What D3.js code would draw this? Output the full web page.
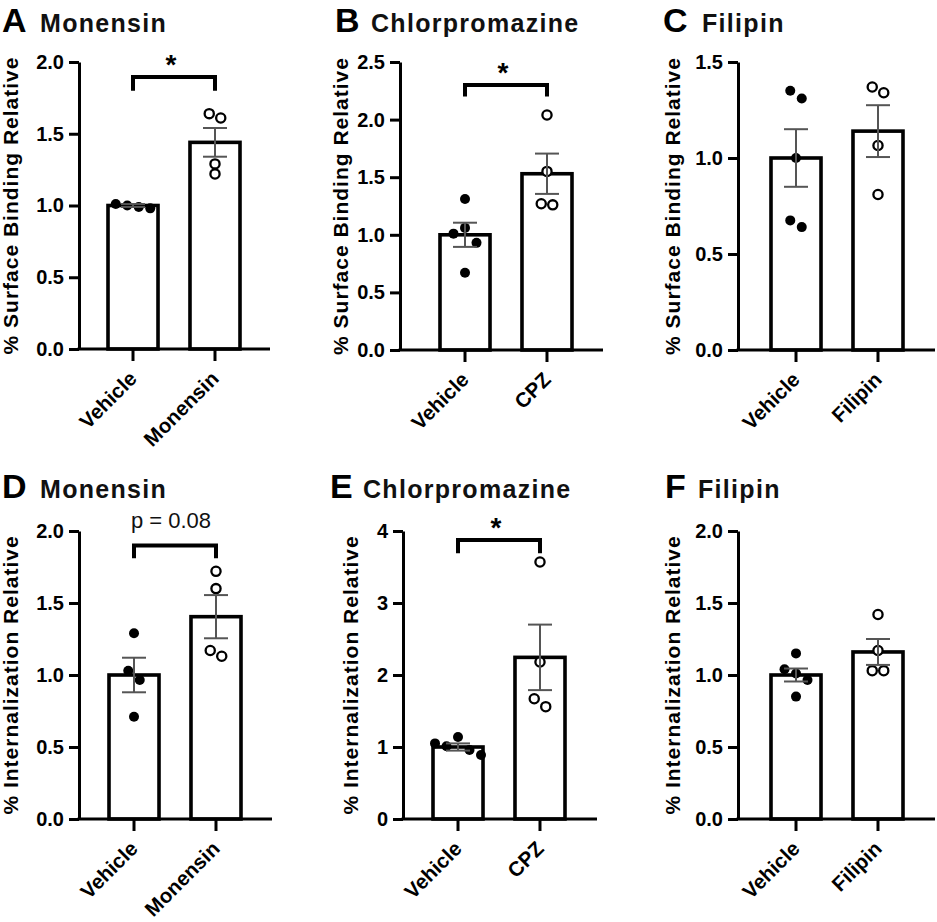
<!DOCTYPE html>
<html>
<head>
<meta charset="utf-8">
<script src="https://cdn.jsdelivr.net/npm/d3@7"></script>
<style>
  body { margin: 0; background: #fff; }
  svg { display: block; font-family: "Liberation Sans", Arial, sans-serif; }
</style>
</head>
<body>
<svg id="chart" width="937" height="922"></svg>
<script>
// values (mean bar, SEM, individual replicates)
var groupsA = ["Vehicle", "Monensin"];
var meansA = [1.00, 1.44];
var semA = [0.01, 0.10];
var vehA = [1.01, 1.00, 0.99, 0.98];
var monA = [1.64, 1.61, 1.29, 1.22];

var groupsB = ["Vehicle", "CPZ"];
var meansB = [1.00, 1.53];
var semB = [0.105, 0.175];
var vehB = [1.31, 1.01, 1.06, 0.93, 0.67];
var cpzB = [2.04, 1.55, 1.27, 1.26];

var groupsC = ["Vehicle", "Filipin"];
var meansC = [1.00, 1.14];
var semC = [0.15, 0.135];
var vehC = [1.35, 1.31, 1.00, 0.675, 0.64];
var filC = [1.37, 1.34, 1.065, 0.81];

var groupsD = ["Vehicle", "Monensin"];
var meansD = [1.00, 1.405];
var semD = [0.12, 0.15];
var vehD = [1.29, 1.03, 0.965, 0.71];
var monD = [1.72, 1.60, 1.17, 1.13];

var groupsE = ["Vehicle", "CPZ"];
var meansE = [1.00, 2.245];
var semE = [0.05, 0.455];
var vehE = [1.05, 1.01, 1.14, 0.96, 0.89];
var cpzE = [3.57, 2.18, 1.67, 1.56];

var groupsF = ["Vehicle", "Filipin"];
var meansF = [1.00, 1.16];
var semF = [0.045, 0.09];
var vehF = [1.15, 1.04, 1.01, 0.965, 0.85];
var filF = [1.42, 1.17, 1.03, 1.03];

var ticksA = [0, 0.5, 1.0, 1.5, 2.0];
var ticksB = [0, 0.5, 1.0, 1.5, 2.0, 2.5];
var ticksC = [0, 0.5, 1.0, 1.5];
var ticksE = [0, 1, 2, 3, 4];

var svg = d3.select("#chart");

var panels = [
  {letter: "A", title: "Monensin", ylab: "% Surface Binding Relative", groups: groupsA, means: meansA, sems: semA, pts: [vehA, monA],
   ticks: ticksA, fmt: ".1f", ax: 79, barLeft: 108, axisEnd: 270, top: 62, bottom: 349, labOff: -66, lx: 2, tx: 40, base: 32,
   sig: {lo: 1.80, hi: 1.895, text: "*"}},
  {letter: "B", title: "Chlorpromazine", ylab: "% Surface Binding Relative", groups: groupsB, means: meansB, sems: semB, pts: [vehB, cpzB],
   ticks: ticksB, fmt: ".1f", ax: 400, barLeft: 440, axisEnd: 603, top: 62, bottom: 350, labOff: -57, lx: 335, tx: 371, base: 32,
   sig: {lo: 2.20, hi: 2.30, text: "*"}},
  {letter: "C", title: "Filipin", ylab: "% Surface Binding Relative", groups: groupsC, means: meansC, sems: semC, pts: [vehC, filC],
   ticks: ticksC, fmt: ".1f", ax: 738, barLeft: 771, axisEnd: 935, top: 62, bottom: 350, labOff: -63, lx: 663, tx: 702, base: 32,
   sig: null},
  {letter: "D", title: "Monensin", ylab: "% Internalization Relative", groups: groupsD, means: meansD, sems: semD, pts: [vehD, monD],
   ticks: ticksA, fmt: ".1f", ax: 79, barLeft: 109, axisEnd: 272, top: 531, bottom: 819, labOff: -66, lx: 2, tx: 40, base: 498,
   sig: {lo: 1.81, hi: 1.90, text: "p = 0.08", plain: true}},
  {letter: "E", title: "Chlorpromazine", ylab: "% Internalization Relative", groups: groupsE, means: meansE, sems: semE, pts: [vehE, cpzE],
   ticks: ticksE, fmt: "d", ax: 403, barLeft: 433, axisEnd: 597, top: 531, bottom: 819, labOff: -50, lx: 330, tx: 363, base: 498,
   sig: {lo: 3.69, hi: 3.875, text: "*"}},
  {letter: "F", title: "Filipin", ylab: "% Internalization Relative", groups: groupsF, means: meansF, sems: semF, pts: [vehF, filF],
   ticks: ticksA, fmt: ".1f", ax: 738, barLeft: 771, axisEnd: 935, top: 531, bottom: 819, labOff: -63, lx: 665, tx: 698, base: 498,
   sig: null}
];

// simple swarm: points closer than minSep px vertically get spread side by side
function swarm(vals, y, gap, minSep) {
  var order = vals.map(function(v, i) { return i; })
    .sort(function(a, b) { return y(vals[a]) - y(vals[b]); });
  var clusters = [], cur = [order[0]];
  for (var k = 1; k < order.length; k++) {
    if (Math.abs(y(vals[order[k]]) - y(vals[order[k - 1]])) < minSep) cur.push(order[k]);
    else { clusters.push(cur); cur = [order[k]]; }
  }
  clusters.push(cur);
  var off = [];
  clusters.forEach(function(c) {
    c.sort(function(a, b) { return a - b; });
    c.forEach(function(i, j) { off[i] = (j - (c.length - 1) / 2) * gap; });
  });
  return off;
}

function drawPanel(p) {
  var g = svg.append("g");
  var ymax = p.ticks[p.ticks.length - 1];

  var x = d3.scaleBand().domain(p.groups)
    .range([p.barLeft, p.barLeft + 132])
    .paddingInner(0.39).paddingOuter(0);
  var y = d3.scaleLinear().domain([0, ymax]).range([p.bottom, p.top]);
  var bw = x.bandwidth();
  var cx = function(gr) { return x(gr) + bw / 2; };

  // titles
  g.append("text").attr("x", p.lx).attr("y", p.base)
    .attr("font-size", 34).attr("font-weight", "bold").text(p.letter);
  g.append("text").attr("x", p.tx).attr("y", p.base)
    .attr("font-size", 25).attr("font-weight", "bold").attr("letter-spacing", 1.3)
    .attr("fill", "#111").text(p.title);

  // bars
  g.selectAll(".bar").data(p.groups).enter().append("rect")
    .attr("class", "bar")
    .attr("x", function(d) { return x(d); })
    .attr("y", function(d, i) { return y(p.means[i]); })
    .attr("width", bw)
    .attr("height", function(d, i) { return p.bottom - y(p.means[i]); })
    .attr("fill", "#fff").attr("stroke", "#000").attr("stroke-width", 3.6);

  // axes
  var yAxis = d3.axisLeft(y).tickValues(p.ticks).tickFormat(d3.format(p.fmt))
    .tickSize(10).tickSizeOuter(0).tickPadding(5);
  var ya = g.append("g").attr("transform", "translate(" + p.ax + ",0)").call(yAxis);
  ya.selectAll("path, line").attr("stroke", "#000").attr("stroke-width", 3);
  ya.selectAll("text").attr("font-size", 20).attr("font-weight", "bold").attr("fill", "#000");

  g.append("line").attr("x1", p.ax - 1.5).attr("x2", p.axisEnd)
    .attr("y1", p.bottom).attr("y2", p.bottom)
    .attr("stroke", "#000").attr("stroke-width", 3);
  var xa = g.append("g").attr("transform", "translate(0," + p.bottom + ")")
    .call(d3.axisBottom(x).tickSize(12).tickSizeOuter(0));
  xa.select(".domain").remove();
  xa.selectAll("line").attr("stroke", "#000").attr("stroke-width", 3);
  xa.selectAll("text")
    .attr("x", 0).attr("y", 0).attr("dy", 0)
    .attr("transform", "translate(5,31) rotate(-45)")
    .style("text-anchor", "end")
    .attr("font-size", 20.5).attr("font-weight", "bold").attr("fill", "#000");

  g.append("text")
    .attr("transform", "translate(" + (p.ax + p.labOff) + "," + ((p.top + p.bottom) / 2) + ") rotate(-90)")
    .attr("dy", "0.25em").attr("text-anchor", "middle")
    .attr("font-size", 21).attr("font-weight", "bold").attr("letter-spacing", 1)
    .text(p.ylab);

  // replicate points
  p.groups.forEach(function(gr, gi) {
    var vals = p.pts[gi];
    var off = swarm(vals, y, 11.5, 10);
    g.selectAll(".pt" + gi).data(vals).enter().append("circle")
      .attr("cx", function(d, i) { return cx(gr) + off[i]; })
      .attr("cy", function(d) { return y(d); })
      .attr("r", gi === 0 ? 5 : 4.6)
      .attr("fill", gi === 0 ? "#000" : "#fff")
      .attr("stroke", "#000")
      .attr("stroke-width", gi === 0 ? 0 : 2.3);
  });

  // SEM error bars
  p.groups.forEach(function(gr, gi) {
    var m = p.means[gi], s = p.sems[gi], c = cx(gr);
    var eb = g.append("g").attr("stroke", "#555").attr("stroke-width", 2);
    eb.append("line").attr("x1", c).attr("x2", c).attr("y1", y(m - s)).attr("y2", y(m + s));
    eb.append("line").attr("x1", c - 12).attr("x2", c + 12).attr("y1", y(m + s)).attr("y2", y(m + s));
    eb.append("line").attr("x1", c - 12).attr("x2", c + 12).attr("y1", y(m - s)).attr("y2", y(m - s));
  });

  // significance bracket
  if (p.sig) {
    var c1 = cx(p.groups[0]), c2 = cx(p.groups[1]);
    g.append("path")
      .attr("d", "M" + c1 + "," + y(p.sig.lo) + "V" + y(p.sig.hi) + "H" + c2 + "V" + y(p.sig.lo))
      .attr("fill", "none").attr("stroke", "#000").attr("stroke-width", 4);
    if (p.sig.plain) {
      g.append("text").attr("x", (c1 + c2) / 2 - 4).attr("y", y(p.sig.hi) - 17)
        .attr("text-anchor", "middle").attr("font-size", 22).attr("fill", "#111")
        .text(p.sig.text);
    } else {
      g.append("text").attr("x", (c1 + c2) / 2 - 3).attr("y", y(p.sig.hi) - 3)
        .attr("text-anchor", "middle").attr("font-size", 28).attr("font-weight", "bold")
        .text(p.sig.text);
    }
  }
}

panels.forEach(drawPanel);
</script>
</body>
</html>
